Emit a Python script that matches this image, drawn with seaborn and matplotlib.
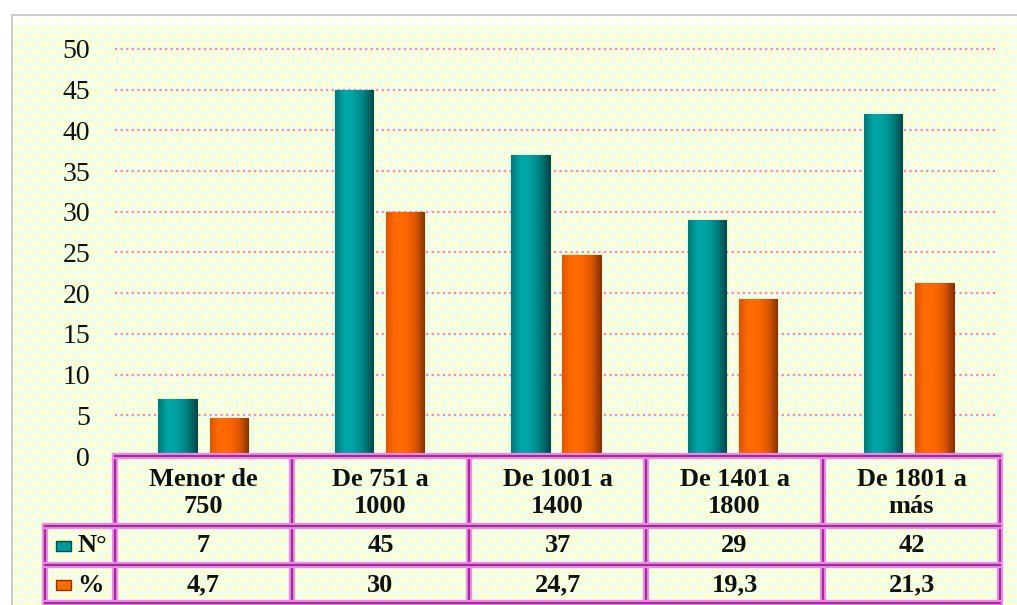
import numpy as np
import pandas as pd
import matplotlib
matplotlib.use('Agg')
import matplotlib.pyplot as plt
import seaborn as sns
from matplotlib.patches import Rectangle
from matplotlib.colors import LinearSegmentedColormap

categories = ['Menor de\n750', 'De 751 a\n1000', 'De 1001 a\n1400',
              'De 1401 a\n1800', 'De 1801 a\nmás']
series = ['N°', '%']
n_values = [7, 45, 37, 29, 42]
pct_values = [4.7, 30, 24.7, 19.3, 21.3]
n_labels = ['7', '45', '37', '29', '42']
pct_labels = ['4,7', '30', '24,7', '19,3', '21,3']
y_ticks = [0, 5, 10, 15, 20, 25, 30, 35, 40, 45, 50]

teal = '#009a9a'
orange = '#ff6a00'
teal_dark = '#004c4c'
orange_dark = '#8a3300'

df = pd.DataFrame({
    'cat': categories * 2,
    'serie': [series[0]] * 5 + [series[1]] * 5,
    'valor': n_values + pct_values,
})

sns.set_theme(style='white')
plt.rcParams['font.family'] = ['Liberation Serif', 'DejaVu Serif']

W, H = 1017, 605
fig = plt.figure(figsize=(W / 100, H / 100), dpi=100)

# fondo tipo ladrillo
bg = fig.add_axes([0, 0, 1, 1])
bg.axis('off')
yy, xx = np.mgrid[0:H, 0:W]
row = (yy - 15) // 8
ry = (yy - 15) % 8
rx = (xx - 12 + (row % 2) * 8) % 16
mortar = (ry < 2) | (rx < 2)
img = np.ones((H, W, 3))
img[:] = np.array([1.0, 1.0, 0.82])
img[mortar] = np.array([0.90, 1.0, 1.0])
# brillo superior
for k in range(14):
    a = 0.9 * (1 - k / 14)
    img[16 + k, :] = img[16 + k, :] * (1 - a) + a
img[:15, :] = 1.0
img[:, :12] = 1.0
img[14:16, 11:] = [0.8, 0.8, 0.8]
img[14:, 11:13] = [0.8, 0.8, 0.8]
bg.imshow(img, extent=[0, W, H, 0], aspect='auto', interpolation='nearest')
bg.set_xlim(0, W)
bg.set_ylim(H, 0)

# grafico de barras
ax = fig.add_axes([115 / W, (H - 456) / H, 882 / W, 410.3 / H])
ax.patch.set_alpha(0)
sns.barplot(data=df, x='cat', y='valor', hue='serie', order=categories,
            hue_order=series, palette=[teal, orange], saturation=1,
            width=0.58, gap=0.25, legend=False, ax=ax)

# sombreado en relieve de cada barra
cm_teal = LinearSegmentedColormap.from_list(
    't', ['#007878', '#00a8a8', '#00a0a0', '#008080', teal_dark])
cm_orange = LinearSegmentedColormap.from_list(
    'o', ['#e05500', '#ff6c00', '#ff6600', '#e05800', orange_dark])
grad = np.linspace(0, 1, 64).reshape(1, -1)
for bar in list(ax.patches):
    fc = bar.get_facecolor()
    is_teal = fc[1] > 0.5
    bar.set_edgecolor(teal_dark if is_teal else orange_dark)
    bar.set_linewidth(0.8)
    x0, w, h = bar.get_x(), bar.get_width(), bar.get_height()
    im = ax.imshow(grad, extent=[x0, x0 + w, 0, h], aspect='auto',
                   cmap=cm_teal if is_teal else cm_orange,
                   zorder=bar.get_zorder() + 0.1, interpolation='bilinear')
    im.set_clip_path(bar)

ax.set_xlim(-0.5, 4.5)
ax.set_ylim(0, 50.4)
ax.set_yticks(y_ticks)
ax.set_xticks([])
ax.set_xlabel('')
ax.set_ylabel('')
ax.yaxis.grid(True, color='#ff80c8', linestyle=(0, (1, 1.5)), linewidth=1.6)
ax.set_axisbelow(True)
for s in ax.spines.values():
    s.set_visible(False)
ax.tick_params(axis='y', length=0, pad=18, labelsize=20, labelcolor='#111111')

# tabla de datos
px = 1 / 177
x_left = -0.5 - 70 * px
tx = fig.add_axes([45 / W, (H - 603) / H, 955 / W, 147 / H])
tx.set_xlim(x_left, 4.5)
tx.set_ylim(147, 0)
tx.axis('off')


def borde(xs, ys):
    tx.plot(xs, ys, color='#f08af0', lw=4.5, clip_on=False, solid_capstyle='projecting')
    tx.plot(xs, ys, color='#a0308f', lw=1.6, clip_on=False, solid_capstyle='projecting')


for k in range(6):
    borde([k - 0.5, k - 0.5], [0, 147])
borde([x_left, x_left], [70, 147])
borde([-0.5, 4.5], [0, 0])
for yl in [70, 109, 147]:
    borde([x_left, 4.5], [yl, yl])

txt = dict(ha='center', va='center', fontsize=19, fontweight='bold', color='#111111')
for i, c in enumerate(categories):
    tx.text(i, 37, c, linespacing=1.2, **txt)
    tx.text(i, 90, n_labels[i], **txt)
    tx.text(i, 129, pct_labels[i], **txt)

for yc, col, dark, lab in [(90, teal, teal_dark, series[0]), (129, orange, orange_dark, series[1])]:
    tx.add_patch(Rectangle((x_left + 11 * px, yc - 5), 15 * px, 10,
                           facecolor=col, edgecolor=dark, lw=1, clip_on=False))
    tx.text(x_left + 32 * px, yc, lab, ha='left', va='center', fontsize=19,
            fontweight='bold', color='#111111')

fig.savefig('out.png', dpi=100)
